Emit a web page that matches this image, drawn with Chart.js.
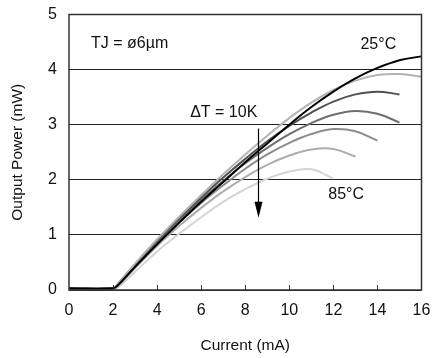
<!DOCTYPE html>
<html>
<head>
<meta charset="utf-8">
<script src="https://cdn.jsdelivr.net/npm/chart.js@4/dist/chart.umd.min.js"></script>
<style>
  html, body { margin: 0; padding: 0; background: #fff; }
  #wrap { width: 434px; height: 358px; }
</style>
</head>
<body>
<div id="wrap"><canvas id="chart"></canvas></div>
<script>
// current grid (mA)
const currents = [0, 2, 2.2, 3, 4, 5, 6, 7, 8, 9, 10, 11, 12, 13, 14, 15, 16];

// output power (mW) per junction temperature
const p25 = [0.03, 0.03, 0.08, 0.42, 0.83, 1.22, 1.6, 1.96, 2.32, 2.66, 3.0, 3.32, 3.6, 3.84, 4.03, 4.17, 4.24];
const p35 = [0.03, 0.03, 0.1, 0.48, 0.92, 1.33, 1.72, 2.1, 2.46, 2.8, 3.12, 3.4, 3.63, 3.8, 3.9, 3.92, 3.87];
const p45 = [0.03, 0.03, 0.1, 0.47, 0.9, 1.3, 1.68, 2.04, 2.38, 2.7, 2.98, 3.22, 3.42, 3.55, 3.6, 3.55, null];
const p55 = [0.03, 0.03, 0.09, 0.46, 0.88, 1.27, 1.64, 1.98, 2.3, 2.58, 2.83, 3.03, 3.18, 3.25, 3.2, 3.04, null];
const p65 = [0.03, 0.03, 0.08, 0.44, 0.85, 1.23, 1.58, 1.9, 2.2, 2.46, 2.67, 2.83, 2.92, 2.88, 2.71, null, null];
const p75 = [0.03, 0.03, 0.06, 0.4, 0.8, 1.16, 1.49, 1.79, 2.05, 2.27, 2.44, 2.55, 2.56, 2.42, null, null, null];
const p85 = [0.03, 0.03, 0.04, 0.33, 0.7, 1.02, 1.32, 1.6, 1.83, 2.02, 2.15, 2.19, 2.02, null, null, null, null];

const series = [p25, p35, p45, p55, p65, p75, p85];
const seriesNames = ["25°C", "35°C", "45°C", "55°C", "65°C", "75°C", "85°C"];
const seriesColors = ["#000000", "#b4b4b4", "#505050", "#6e6e6e", "#8c8c8c", "#adadad", "#d4d4d4"];

const xTicks = [0, 2, 4, 6, 8, 10, 12, 14, 16];
const yTicks = [0, 1, 2, 3, 4, 5];

const FONT = "'Liberation Sans', Arial, Helvetica, sans-serif";

function toPoints(vals) {
  const pts = [];
  vals.forEach((v, i) => { if (v !== null) pts.push({x: currents[i], y: v}); });
  return pts;
}

// text notes and the arrow, placed in data coordinates
const notes = [
  {text: "TJ = ø6µm", x: 1.0, y: 4.47},
  {text: "25°C", x: 13.23, y: 4.45},
  {text: "ΔT = 10K", x: 5.5, y: 3.22},
  {text: "85°C", x: 11.77, y: 1.73}
];
const arrow = {x: 8.59, from: 2.93, to: 1.31};

const extras = {
  id: "extras",
  afterDraw(chart) {
    const {ctx, chartArea: a, scales: {x, y}} = chart;
    ctx.save();
    // inner ticks on the current axis
    ctx.strokeStyle = "#333";
    ctx.lineWidth = 1;
    xTicks.slice(1, -1).forEach(v => {
      const px = Math.round(x.getPixelForValue(v)) + 0.5;
      ctx.beginPath();
      ctx.moveTo(px, a.bottom);
      ctx.lineTo(px, a.bottom - 5);
      ctx.stroke();
    });
    // frame
    ctx.lineWidth = 1.5;
    ctx.strokeRect(a.left, a.top, a.right - a.left, a.bottom - a.top);
    // arrow
    const ax = Math.round(x.getPixelForValue(arrow.x)) + 0.5;
    const y1 = y.getPixelForValue(arrow.from);
    const y2 = y.getPixelForValue(arrow.to);
    ctx.strokeStyle = "#000";
    ctx.lineWidth = 1.2;
    ctx.beginPath();
    ctx.moveTo(ax, y1);
    ctx.lineTo(ax, y2 - 12);
    ctx.stroke();
    ctx.fillStyle = "#000";
    ctx.beginPath();
    ctx.moveTo(ax, y2);
    ctx.lineTo(ax - 4, y2 - 16);
    ctx.lineTo(ax + 4, y2 - 16);
    ctx.closePath();
    ctx.fill();
    // notes
    ctx.font = "16px " + FONT;
    ctx.fillStyle = "#111";
    ctx.textBaseline = "middle";
    ctx.textAlign = "left";
    notes.forEach(n => ctx.fillText(n.text, x.getPixelForValue(n.x), y.getPixelForValue(n.y)));
    ctx.restore();
  }
};

new Chart(document.getElementById("chart"), {
  type: "line",
  data: {
    datasets: series.map((vals, i) => ({
      label: seriesNames[i],
      data: toPoints(vals),
      borderColor: seriesColors[i],
      borderWidth: 2,
      pointRadius: 0,
      tension: 0.4,
      fill: false
    }))
  },
  options: {
    responsive: true,
    maintainAspectRatio: false,
    animation: false,
    layout: { padding: { top: 14.5, right: 12.5, left: 0, bottom: 0 } },
    plugins: { legend: { display: false }, tooltip: { enabled: false } },
    scales: {
      x: {
        type: "linear",
        min: 0,
        max: 16,
        afterBuildTicks: s => { s.ticks = xTicks.map(v => ({value: v})); },
        afterFit: s => { s.height = 68; s.paddingLeft = 0; s.paddingRight = 0; },
        grid: { display: false, drawTicks: false },
        border: { display: false },
        ticks: { color: "#111", font: { size: 16, family: FONT }, padding: 11, maxRotation: 0 },
        title: { display: true, text: "Current (mA)", color: "#111", font: { size: 15.5, family: FONT }, padding: { top: 0, bottom: 3 } }
      },
      y: {
        type: "linear",
        min: 0,
        max: 5,
        afterBuildTicks: s => { s.ticks = yTicks.map(v => ({value: v})); },
        afterFit: s => { s.width = 69; s.paddingTop = 0; s.paddingBottom = 0; },
        grid: { color: "#222", lineWidth: 1, drawTicks: false },
        border: { display: false },
        ticks: { color: "#111", font: { size: 16, family: FONT }, padding: 12 },
        title: { display: true, text: "Output Power (mW)", color: "#111", font: { size: 15.5, family: FONT }, padding: { top: 8, bottom: 0 } }
      }
    }
  },
  plugins: [extras]
});
</script>
</body>
</html>
